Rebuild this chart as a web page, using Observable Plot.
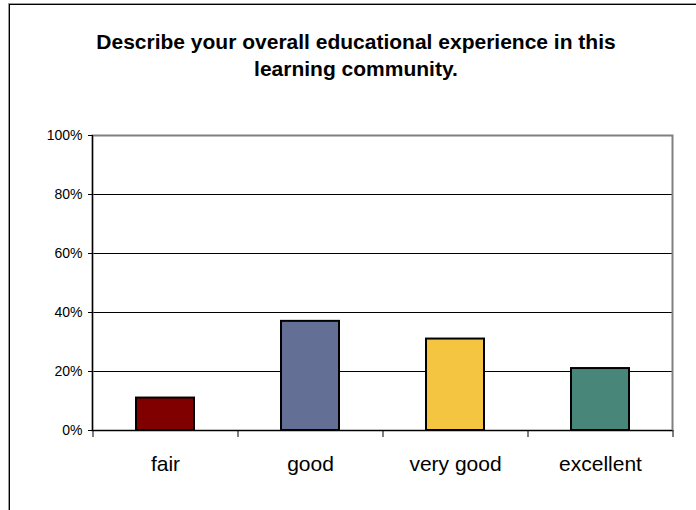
<!DOCTYPE html>
<html>
<head>
<meta charset="utf-8">
<script src="https://cdn.jsdelivr.net/npm/d3@7"></script>
<script src="https://cdn.jsdelivr.net/npm/@observablehq/plot@0.6"></script>
<style>
  html, body { margin: 0; padding: 0; background: #fff; }
  #wrap { position: relative; width: 696px; height: 510px; overflow: hidden; font-family: "Liberation Sans", Arial, sans-serif; }
  #border { position: absolute; left: 9px; top: 4px; width: 800px; height: 600px; border-left: 1px solid #000; border-top: 1px solid #000; box-shadow: -1px -1px 0 #9a9a9a; }
  #title { position: absolute; left: 16px; width: 680px; top: 28px; text-align: center; font-weight: bold; font-size: 21px; line-height: 27px; color: #000; }
  #chart { position: absolute; left: 0; top: 0; }
</style>
</head>
<body>
<div id="wrap">
  <div id="border"></div>
  <div id="title">Describe your overall educational experience in this<br>learning community.</div>
  <div id="chart"></div>
</div>
<script>
const categories = ["fair", "good", "very good", "excellent"];
const values = [11, 37, 31, 21];
const colors = ["#800000", "#646f95", "#f4c540", "#48867a"];
const yTicks = [0, 20, 40, 60, 80, 100];
const gridTicks = [20, 40, 60, 80];

const data = categories.map((c, i) => ({category: c, value: values[i], color: colors[i]}));

const W = 696, H = 510, ML = 92, MR = 24, MT = 135, MB = 80;
const step = (W - ML - MR) / categories.length;

const chart = Plot.plot({
  width: W,
  height: H,
  marginLeft: ML,
  marginRight: MR,
  marginTop: MT,
  marginBottom: MB,
  style: {fontFamily: "'Liberation Sans', Arial, sans-serif", background: "transparent", color: "#000"},
  x: {domain: categories, paddingInner: 0.6, paddingOuter: 0.3, label: null},
  y: {domain: [0, 100], label: null},
  marks: [
    Plot.ruleY(gridTicks, {stroke: "#000", strokeWidth: 1}),
    Plot.frame({stroke: "#808080", strokeWidth: 2}),
    Plot.barY(data, {x: "category", y: "value", fill: "color", stroke: "#000", strokeWidth: 2}),
    Plot.frame({anchor: "left", stroke: "#000", strokeWidth: 1.2}),
    Plot.ruleY([0], {stroke: "#000", strokeWidth: 1.2}),
    Plot.axisY({ticks: yTicks, tickSize: 4, tickPadding: 6, tickFormat: d => d + "%", fontSize: 14, stroke: "#000", label: null}),
    Plot.axisX({tickSize: 7, text: null, dx: -step / 2, stroke: "#000", label: null}),
    Plot.axisX({ticks: [categories[categories.length - 1]], tickSize: 7, text: null, dx: step / 2, stroke: "#000", label: null}),
    Plot.axisX({tickSize: 0, tickPadding: 26, fontSize: 21, label: null})
  ]
});
document.getElementById("chart").appendChild(chart);
</script>
</body>
</html>
